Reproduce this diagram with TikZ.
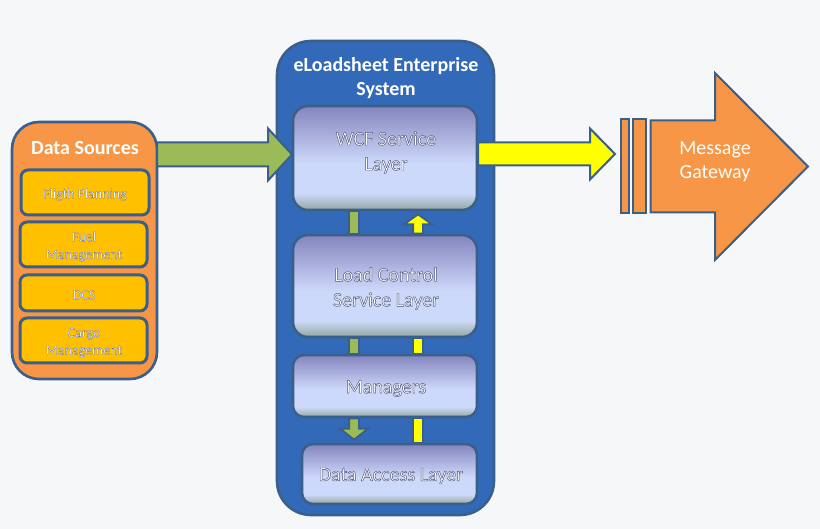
\documentclass[tikz,border=0pt]{standalone}
\usepackage{fontspec}
\setmainfont{Carlito}
\usetikzlibrary{calc}
\definecolor{pagebg}{HTML}{F6F7F8}
\definecolor{edge}{HTML}{3A5F8B}
\definecolor{sysblue}{HTML}{326AB9}
\definecolor{orangefill}{HTML}{F79646}
\definecolor{goldfill}{HTML}{FFC000}
\definecolor{greenfill}{HTML}{9BBB59}
\definecolor{yellowfill}{HTML}{FFFF00}
\pgfdeclareverticalshading{layergrad}{100bp}{
  rgb(0bp)=(0.576,0.655,0.616);
  rgb(25bp)=(0.576,0.655,0.616);
  rgb(33bp)=(0.804,0.851,0.984);
  rgb(47.5bp)=(0.804,0.851,0.984);
  rgb(75bp)=(0.518,0.518,0.741);
  rgb(100bp)=(0.518,0.518,0.741)}
\newcommand{\halo}[2][0.45]{{\color{white}\special{pdf:code 2 Tr #1 w 1 j 0.30 0.32 0.46 RG}#2\special{pdf:code 0 Tr 1 w 0 j}}}
\newcommand{\blockh}[6]{% from, to, half shaft, half head, head length (signed), fill
  \draw[blockedge,fill=#6] let \p1=(#1),\p2=(#2) in
    (\x1,\y1+#3pt) -- (\x2-#5pt,\y1+#3pt) -- (\x2-#5pt,\y1+#4pt) -- (\x2,\y1)
    -- (\x2-#5pt,\y1-#4pt) -- (\x2-#5pt,\y1-#3pt) -- (\x1,\y1-#3pt) -- cycle;}
\newcommand{\blockv}[6]{% from, to, half shaft, half head, head length (signed), fill
  \draw[blockedge,fill=#6] let \p1=(#1),\p2=(#2) in
    (\x1+#3pt,\y1) -- (\x1+#3pt,\y2-#5pt) -- (\x1+#4pt,\y2-#5pt) -- (\x1,\y2)
    -- (\x1-#4pt,\y2-#5pt) -- (\x1-#3pt,\y2-#5pt) -- (\x1-#3pt,\y1) -- cycle;}
\newcommand{\stem}[3]{% from, to, fill
  \draw[blockedge,fill=#3] let \p1=(#1),\p2=(#2) in
    (\x1-5pt,\y1) rectangle (\x1+5pt,\y2);}
\tikzset{
  x=1pt,y=-1pt,
  blockedge/.style={draw=edge,line width=2pt,line join=miter},
  panel/.style={draw=edge,line width=2.6pt,rectangle,inner sep=0pt},
  srcbox/.style={panel,fill=goldfill,rounded corners=7pt,line width=3pt},
  layerbox/.style={panel,shade,shading=layergrad,rounded corners=15pt},
  whitetitle/.style={align=center,text=white,font=\fontsize{20}{24}\selectfont\bfseries,inner sep=0pt},
  srclabel/.style={align=center,font=\fontsize{14}{17.5}\selectfont,inner sep=0pt},
  layerlabel/.style={align=center,font=\fontsize{20}{25}\selectfont,inner sep=0pt},
  gatelabel/.style={align=center,text=white,font=\fontsize{20}{24}\selectfont,inner sep=0pt},
}
\begin{document}
\begin{tikzpicture}
\useasboundingbox (0,0) rectangle (820,529);
\fill[pagebg] (0,0) rectangle (820,529);

% containers
\node[panel,fill=orangefill,rounded corners=27pt,minimum width=145pt,minimum height=257pt] (sources) at (84.5,250.5) {};
\node[panel,fill=sysblue,rounded corners=34pt,minimum width=217pt,minimum height=474pt] (system) at (385.5,278) {};

% source boxes
\node[srcbox,minimum width=128pt,minimum height=45pt] (flight) at (85,192.5) {};
\node[srcbox,minimum width=127pt,minimum height=45pt] (fuel) at (83.5,244.5) {};
\node[srcbox,minimum width=127pt,minimum height=36pt] (dcs) at (83.5,293) {};
\node[srcbox,minimum width=127pt,minimum height=45pt] (cargo) at (83.5,340.5) {};

% layers
\node[layerbox,minimum width=184pt,minimum height=104pt] (wcf) at (385,158) {};
\node[layerbox,minimum width=184pt,minimum height=102pt] (load) at (385,286) {};
\node[layerbox,minimum width=184pt,minimum height=62pt,rounded corners=11pt] (mgr) at (385,386) {};
\node[layerbox,minimum width=175pt,minimum height=60pt,rounded corners=11pt] (dal) at (389.5,474) {};

% gateway
\node[panel,fill=orangefill,minimum width=8pt,minimum height=94pt,line width=2pt] (barA) at (625,166) {};
\node[panel,fill=orangefill,minimum width=13pt,minimum height=94pt,line width=2pt] (barB) at (639.5,166) {};
\coordinate (gwstart) at (650.5,166.5);
\coordinate (gwtip) at (808,166.5);
\blockh{gwstart}{gwtip}{46}{93.5}{93}{orangefill}

% column positions of the internal links
\coordinate (gc) at (354,0);
\coordinate (yc) at (418,0);

% horizontal links
\coordinate (greenstart) at (157,154.5);
\coordinate (greentip) at (292,154.5);
\blockh{greenstart}{greentip}{12}{26}{24}{greenfill}
\coordinate (yellowstart) at (478,154);
\coordinate (yellowtip) at (615,154);
\blockh{yellowstart}{yellowtip}{11.5}{25.5}{25}{yellowfill}

% internal links
\stem{wcf.south -| gc}{load.north -| gc}{greenfill}
\stem{load.south -| gc}{mgr.north -| gc}{greenfill}
\coordinate (gtipc) at ($(dal.north -| gc)+(0,-3)$);
\blockv{mgr.south -| gc}{gtipc}{5}{14}{-11}{greenfill}
\coordinate (ytipc) at ($(wcf.south -| yc)+(0,3)$);
\blockv{load.north -| yc}{ytipc}{5}{14}{10}{yellowfill}
\stem{load.south -| yc}{mgr.north -| yc}{yellowfill}
\stem{mgr.south -| yc}{dal.north -| yc}{yellowfill}

% texts
\node[whitetitle] (sourcesT) at (85,148.5) {Data Sources};
\node[whitetitle] (systemT) at (386,78) {eLoadsheet Enterprise\\System};
\node[srclabel] (flightT) at (85,194.5) {\halo[0.2]{Fligth Planning}};
\node[srclabel] (fuelT) at (84,246.5) {\halo[0.2]{Fuel}\\\halo[0.2]{Management}};
\node[srclabel] (dcsT) at (84,295) {\halo[0.2]{DCS}};
\node[srclabel] (cargoT) at (84,342.5) {\halo[0.2]{Cargo}\\\halo[0.2]{Management}};
\node[layerlabel] (wcfT) at (386,152.5) {\halo{WCF Service}\\\halo{Layer}};
\node[layerlabel] (loadT) at (386,288.5) {\halo{Load Control}\\\halo{Service Layer}};
\node[layerlabel] (mgrT) at (386,388.5) {\halo{Managers}};
\node[layerlabel] (dalT) at (391,476) {\halo{Data Access Layer}};
\node[gatelabel] (gwT) at (715,161.5) {Message\\Gateway};
\end{tikzpicture}
\end{document}
